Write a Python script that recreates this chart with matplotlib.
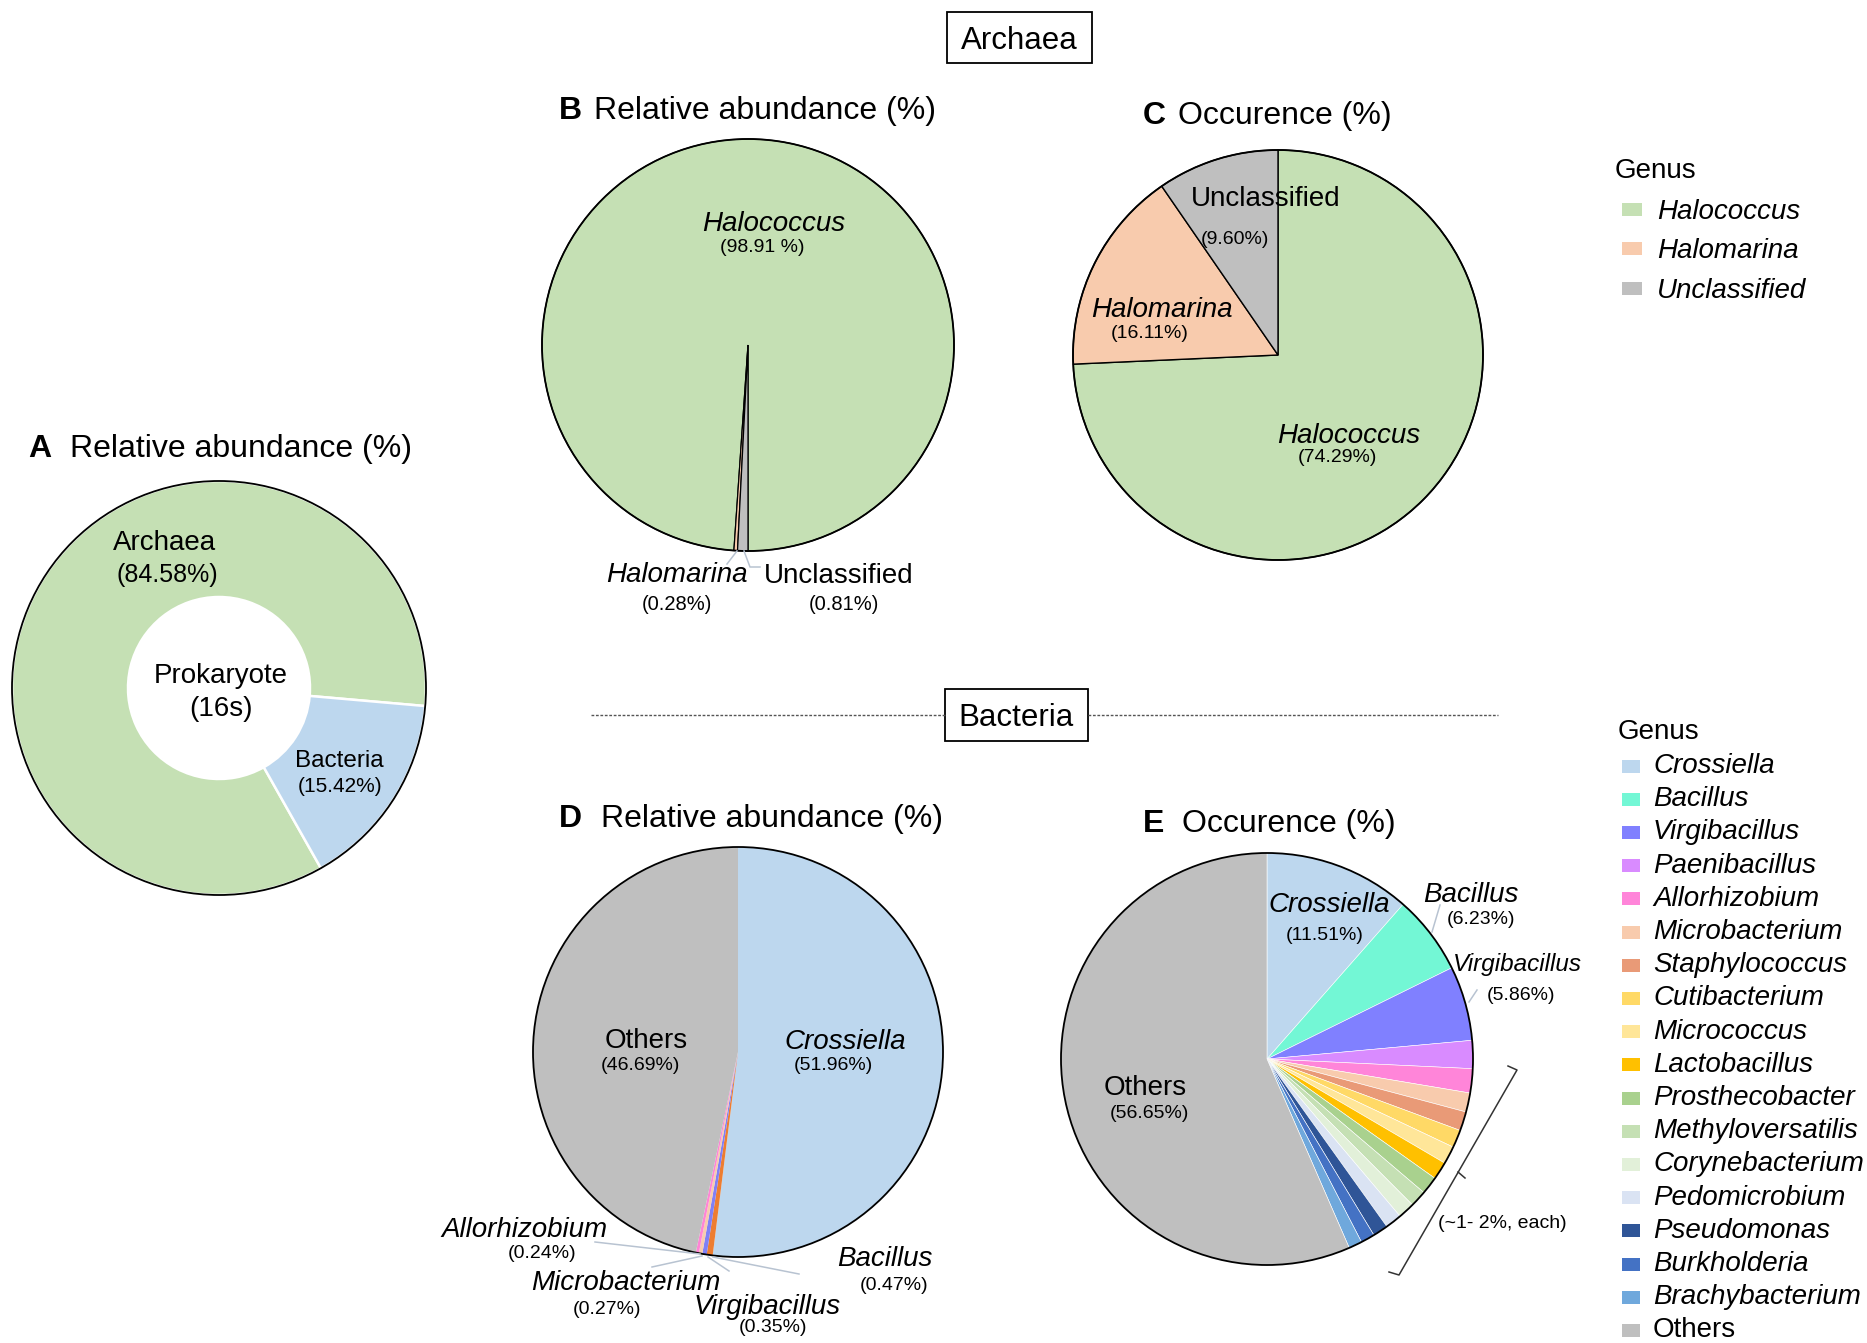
import matplotlib
matplotlib.use("Agg")
import matplotlib.pyplot as plt
from matplotlib.patches import Rectangle, Circle

plt.rcParams['font.family'] = ['Liberation Sans', 'DejaVu Sans']

# ---------------- data ----------------
prok_labels = ["Archaea", "Bacteria"]
prok_values = [84.58, 15.42]
prok_colors = ["#c5e0b4", "#bdd7ee"]

arch_genus = ["Halococcus", "Halomarina", "Unclassified"]
arch_colors = ["#c5e0b4", "#f8cbad", "#bfbfbf"]
arch_abund = [98.91, 0.28, 0.81]
arch_occ = [74.29, 16.11, 9.60]

bact_abund_names = ["Crossiella", "Bacillus", "Virgibacillus", "Microbacterium", "Allorhizobium", "Others"]
bact_abund_values = [51.96, 0.47, 0.35, 0.27, 0.24, 46.69]
bact_abund_colors = ["#bdd7ee", "#ed7d31", "#8080f5", "#f8cbad", "#ff85d5", "#bfbfbf"]

bact_occ_names = ["Crossiella", "Bacillus", "Virgibacillus", "Paenibacillus", "Allorhizobium",
                  "Microbacterium", "Staphylococcus", "Cutibacterium", "Micrococcus", "Lactobacillus",
                  "Prosthecobacter", "Methyloversatilis", "Corynebacterium", "Pedomicrobium",
                  "Pseudomonas", "Burkholderia", "Brachybacterium", "Others"]
bact_occ_values = [11.51, 6.23, 5.86, 2.2, 1.9, 1.5, 1.5, 1.4, 1.4, 1.4,
                   1.4, 1.3, 1.3, 1.3, 1.2, 1.1, 1.05, 56.65]
bact_occ_colors = ["#bdd7ee", "#73f7d5", "#8080ff", "#d98bff", "#ff85d9",
                   "#f8cbad", "#e99a77", "#ffd966", "#ffe699", "#ffc000",
                   "#a9d18e", "#c5e0b4", "#e2f0d9", "#dae3f3",
                   "#2f5597", "#4472c4", "#6fa8dc", "#bfbfbf"]

W, H = 1867, 1343
fig = plt.figure(figsize=(W / 100, H / 100), dpi=100)
ax = fig.add_axes([0, 0, 1, 1])


def Y(y):
    return H - y


def txt(x, y, s, size=20, style='normal', weight='normal', ha='center', dy=3, **kw):
    ax.text(x, Y(y + dy), s, fontsize=size, style=style, weight=weight, ha=ha, va='center', **kw)


def title(x1, x2, y, letter, s):
    txt(x1, y, letter, size=23, weight='bold', ha='left', dy=6)
    txt(x2, y, s, size=23, ha='left', dy=6)


def outline(cx, cy, r, lw=1.3):
    ax.add_patch(Circle((cx, Y(cy)), r, fill=False, ec='black', lw=lw, zorder=5))


def leader(pts, color='#b8c3d1'):
    xs = [p[0] for p in pts]
    ys = [Y(p[1]) for p in pts]
    ax.plot(xs, ys, color=color, lw=1.1, zorder=6)


# ---------------- A: donut ----------------
cx, cy, r = 219, 688, 207
ax.pie(prok_values, colors=prok_colors, startangle=-5, counterclock=True, radius=r,
       center=(cx, Y(cy)), wedgeprops=dict(width=116, edgecolor='white', linewidth=1.8))
outline(cx, cy, r)
title(28, 70, 443, "A", "Relative abundance (%)")
txt(164, 540, prok_labels[0], size=20)
txt(167, 572, "(84.58%)", size=18)
txt(221, 673, "Prokaryote", size=20)
txt(221, 706, "(16s)", size=20)
txt(339, 758, prok_labels[1], size=17.5)
txt(340, 784, "(15.42%)", size=15)

# ---------------- B: archaea abundance ----------------
cx, cy, r = 748, 345, 206
ax.pie(arch_abund, colors=arch_colors, startangle=-90, counterclock=True, radius=r,
       center=(cx, Y(cy)), wedgeprops=dict(edgecolor='black', linewidth=0.9))
outline(cx, cy, r)
title(559, 594, 105, "B", "Relative abundance (%)")
txt(774, 221, arch_genus[0], size=20, style='italic')
txt(762, 244, "(98.91 %)", size=14)
txt(677, 572, arch_genus[1], size=20, style='italic')
txt(677, 602, "(0.28%)", size=14.5)
txt(839, 573, arch_genus[2], size=20)
txt(844, 602, "(0.81%)", size=14.5)
leader([(737, 551), (727, 564)])
leader([(744, 551), (750, 567), (760, 567)])

# ---------------- C: archaea occurrence ----------------
cx, cy, r = 1278, 355, 205
ax.pie(arch_occ, colors=arch_colors, startangle=90, counterclock=False, radius=r,
       center=(cx, Y(cy)), wedgeprops=dict(edgecolor='black', linewidth=1.0))
outline(cx, cy, r)
title(1143, 1178, 110, "C", "Occurence (%)")
txt(1266, 196, arch_genus[2], size=20)
txt(1235, 236, "(9.60%)", size=14)
txt(1162, 307, arch_genus[1], size=20, style='italic')
txt(1150, 331, "(16.11%)", size=14)
txt(1349, 433, arch_genus[0], size=20, style='italic')
txt(1337, 454, "(74.29%)", size=14)

# legend 1
txt(1615, 168, "Genus", size=20, ha='left')
for i, (g, c) in enumerate(zip(arch_genus, arch_colors)):
    yy = 209 + i * 39.5
    ax.add_patch(Rectangle((1622, Y(yy) - 6.5), 20, 13, color=c, lw=0))
    txt(1657, yy, g, size=20, style='italic', ha='left')

# ---------------- section headers ----------------
ax.add_patch(Rectangle((947, Y(63)), 145, 51, fill=False, ec='black', lw=1.3))
txt(1019, 38, "Archaea", size=22.5)
ax.plot([591, 945], [Y(715), Y(715)], color='#555555', lw=1.0, ls=(0, (2, 1.2)))
ax.plot([1088, 1498], [Y(715), Y(715)], color='#555555', lw=1.0, ls=(0, (2, 1.2)))
ax.add_patch(Rectangle((945, Y(741)), 143, 52, fill=False, ec='black', lw=1.3))
txt(1016, 715, "Bacteria", size=22.5)

# ---------------- D: bacteria abundance ----------------
cx, cy, r = 738, 1052, 205
ax.pie(bact_abund_values, colors=bact_abund_colors, startangle=90, counterclock=False, radius=r,
       center=(cx, Y(cy)), wedgeprops=dict(edgecolor='none', linewidth=0))
outline(cx, cy, r)
title(559, 601, 813, "D", "Relative abundance (%)")
txt(646, 1038, "Others", size=20)
txt(640, 1062, "(46.69%)", size=14)
txt(845, 1039, "Crossiella", size=20, style='italic')
txt(833, 1062, "(51.96%)", size=14)
txt(524, 1227, "Allorhizobium", size=20, style='italic')
txt(542, 1250, "(0.24%)", size=14)
txt(626, 1280, "Microbacterium", size=20, style='italic')
txt(607, 1306, "(0.27%)", size=14)
txt(767, 1304, "Virgibacillus", size=20, style='italic')
txt(773, 1325, "(0.35%)", size=14)
txt(885, 1256, "Bacillus", size=20, style='italic')
txt(894, 1283, "(0.47%)", size=14)
leader([(700, 1254), (595, 1242)])
leader([(702, 1256), (652, 1267)])
leader([(708, 1257), (729, 1271)])
leader([(713, 1257), (799, 1274)])

# ---------------- E: bacteria occurrence ----------------
cx, cy, r = 1267, 1059, 206
ax.pie(bact_occ_values, colors=bact_occ_colors, startangle=90, counterclock=False, radius=r,
       center=(cx, Y(cy)), wedgeprops=dict(edgecolor='white', linewidth=0.4))
outline(cx, cy, r)
title(1143, 1182, 818, "E", "Occurence (%)")
txt(1329, 902, "Crossiella", size=20, style='italic')
txt(1325, 933, "(11.51%)", size=14)
txt(1471, 892, "Bacillus", size=20, style='italic')
txt(1481, 917, "(6.23%)", size=14)
txt(1517, 962, "Virgibacillus", size=17.5, style='italic')
txt(1521, 993, "(5.86%)", size=14)
txt(1145, 1085, "Others", size=20)
txt(1149, 1110, "(56.65%)", size=14)
txt(1502, 1220, "(~1- 2%, each)", size=14)
leader([(1432, 932), (1440, 905)])
leader([(1469, 1002), (1477, 990)])
# bracket
ax.plot([1508, 1517, 1399, 1389], [Y(1066), Y(1070), Y(1275), Y(1272)], color='#333333', lw=1.1)
ax.plot([1458, 1465], [Y(1172), Y(1178)], color='#333333', lw=1.1)

# legend 2
txt(1618, 731, "Genus", size=20, ha='left', dy=1)
for i, (g, c) in enumerate(zip(bact_occ_names, bact_occ_colors)):
    yy = 766 + i * 33.2
    ax.add_patch(Rectangle((1622, Y(yy) - 6.5), 18, 13, color=c, lw=0))
    txt(1653, yy, g, size=20, style='normal' if g == "Others" else 'italic', ha='left', dy=0)

ax.set_xlim(0, W)
ax.set_ylim(0, H)
ax.set_aspect('equal')
ax.axis('off')
fig.savefig("out.png", dpi=100, facecolor='white')
